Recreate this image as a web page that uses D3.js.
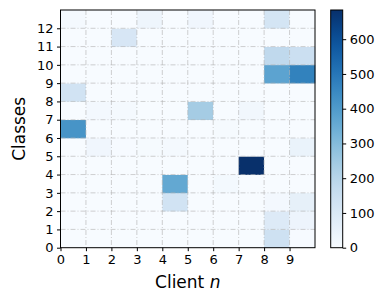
<!DOCTYPE html>
<html><head><meta charset="utf-8">
<script src="https://cdn.jsdelivr.net/npm/d3@7"></script>
<style>body{margin:0;background:#fff}svg{display:block}text{font-family:"DejaVu Sans",sans-serif;fill:#000}</style>
</head><body><svg id="c" width="390" height="304"></svg>
<script>
const clients = [0,1,2,3,4,5,6,7,8,9];
const classes = [0,1,2,3,4,5,6,7,8,9,10,11,12];
const xTicks = [0,1,2,3,4,5,6,7,8,9];
const yTicks = [0,1,2,3,4,5,6,7,8,9,10,11,12];
const cbTicks = [0,100,200,300,400,500,600];
const vmax = 684;
// counts[class][client]
const class0  = [0,0,0,0,0,0,0,0,140,5];
const class1  = [0,0,0,0,0,0,0,0,90,35];
const class2  = [0,0,0,0,130,0,0,0,15,60];
const class3  = [0,0,0,0,360,0,12,0,0,0];
const class4  = [0,0,0,0,0,0,0,684,0,0];
const class5  = [0,25,5,8,10,0,0,0,0,45];
const class6  = [420,0,0,0,0,0,8,0,0,0];
const class7  = [0,15,10,0,0,240,0,20,0,0];
const class8  = [130,0,0,0,0,0,0,0,0,0];
const class9  = [0,0,0,0,0,0,0,0,375,470];
const class10 = [0,0,0,0,0,0,0,0,180,150];
const class11 = [0,0,110,0,0,0,0,0,0,0];
const class12 = [10,0,0,30,0,25,0,0,120,0];
const counts = [class0,class1,class2,class3,class4,class5,class6,class7,class8,class9,class10,class11,class12];

const svg = d3.select("#c");
const L = 60.5, R = 315, T = 10, B = 247.7;
const x = d3.scaleLinear().domain([0, clients.length]).range([L, R]);
const y = d3.scaleLinear().domain([0, classes.length]).range([B, T]);
const color = d3.scaleSequential(d3.interpolateBlues).domain([0, vmax]);

const cells = [];
classes.forEach((c, i) => clients.forEach((n, j) => cells.push({c, n, v: counts[i][j]})));
svg.append("g").selectAll("rect").data(cells).join("rect")
  .attr("x", d => x(d.n)).attr("y", d => y(d.c + 1))
  .attr("width", x(1) - x(0) + 0.3).attr("height", y(0) - y(1) + 0.3)
  .attr("fill", d => color(d.v));

// grid
const g = svg.append("g").attr("stroke", "#b0b0b0").attr("stroke-opacity", 0.6)
  .attr("stroke-width", 1).attr("stroke-dasharray", "5,2,1,2");
g.selectAll(".vx").data(xTicks.slice(1)).join("line")
  .attr("x1", d => x(d)).attr("x2", d => x(d)).attr("y1", T).attr("y2", B);
g.selectAll(".hy").data(yTicks.slice(1)).join("line")
  .attr("y1", d => y(d)).attr("y2", d => y(d)).attr("x1", L).attr("x2", R);

svg.append("rect").attr("x", L).attr("y", T).attr("width", R - L).attr("height", B - T)
  .attr("fill", "none").attr("stroke", "#000").attr("stroke-width", 1);

const xa = svg.append("g").attr("transform", `translate(0,${B})`)
  .call(d3.axisBottom(x).tickValues(xTicks).tickSize(3.5).tickPadding(3.5).tickFormat(d3.format("d")));
const ya = svg.append("g").attr("transform", `translate(${L},0)`)
  .call(d3.axisLeft(y).tickValues(yTicks).tickSize(3.5).tickPadding(3.5).tickFormat(d3.format("d")));
[xa, ya].forEach(a => { a.select(".domain").remove(); a.selectAll("text").style("font-size", "13px"); a.selectAll("line").attr("stroke", "#000"); });

svg.append("text").attr("x", (L + R) / 2).attr("y", 288).attr("text-anchor", "middle")
  .style("font-size", "17px").html('Client <tspan font-style="italic">n</tspan>');
svg.append("text").attr("transform", `translate(25,${(T + B) / 2}) rotate(-90)`)
  .attr("text-anchor", "middle").style("font-size", "17px").text("Classes");

// colorbar
const cbL = 330.7, cbW = 12, cbT = T, cbB = B;
const cy = d3.scaleLinear().domain([0, vmax]).range([cbB, cbT]);
const grad = svg.append("defs").append("linearGradient").attr("id", "gr")
  .attr("x1", 0).attr("y1", 1).attr("x2", 0).attr("y2", 0);
d3.range(0, 1.0001, 0.05).forEach(t => grad.append("stop").attr("offset", t).attr("stop-color", color(t * vmax)));
svg.append("rect").attr("x", cbL).attr("y", cbT).attr("width", cbW).attr("height", cbB - cbT)
  .attr("fill", "url(#gr)").attr("stroke", "#000").attr("stroke-width", 1);
const ca = svg.append("g").attr("transform", `translate(${cbL + cbW},0)`)
  .call(d3.axisRight(cy).tickValues(cbTicks).tickSize(3.5).tickPadding(3.5));
ca.select(".domain").remove();
ca.selectAll("text").style("font-size", "13px");
ca.selectAll("line").attr("stroke", "#000");
</script></body></html>
